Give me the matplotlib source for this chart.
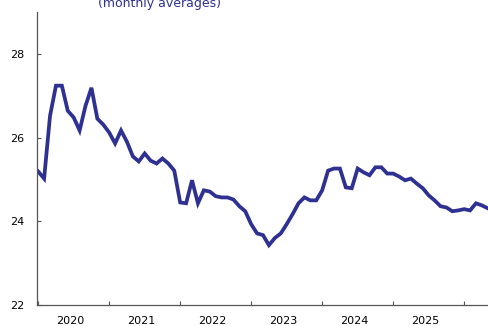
import matplotlib
matplotlib.use("Agg")
import matplotlib.pyplot as plt
import numpy as np

# Monthly averages, Jan 2020 onwards
values = [25.19, 25.02, 26.52, 27.24, 27.24, 26.64, 26.48, 26.17, 26.76, 27.19,
          26.45, 26.31, 26.12, 25.86, 26.17, 25.90, 25.55, 25.43, 25.62, 25.45,
          25.38, 25.50, 25.38, 25.21, 24.45, 24.43, 24.98, 24.43, 24.74, 24.71,
          24.60, 24.57, 24.57, 24.52, 24.36, 24.24, 23.93, 23.71, 23.67, 23.43,
          23.60, 23.71, 23.93, 24.17, 24.43, 24.57, 24.50, 24.50, 24.74, 25.21,
          25.26, 25.26, 24.81, 24.79, 25.26, 25.17, 25.10, 25.29, 25.29, 25.14,
          25.14, 25.07, 24.98, 25.02, 24.90, 24.79, 24.62, 24.50, 24.36, 24.33,
          24.24, 24.26, 24.29, 24.26, 24.43, 24.38, 24.31]
years = ["2020", "2021", "2022", "2023", "2024", "2025"]
y_ticks = [22, 24, 26, 28]

line_color = "#2F3192"
axis_color = "#555555"

fig = plt.figure(figsize=(4.89, 3.26), dpi=100)
ax = fig.add_axes([0.0757, 0.0644, 0.9243, 0.8988])

x = np.arange(len(values))
ax.plot(x, values, color=line_color, lw=2.7, solid_joinstyle="miter")

ax.set_xlim(-0.2, 76.2)
ax.set_ylim(22, 29)

# year boundaries as ticks, year names centred in between
ax.set_xticks([12 * i for i in range(len(years) + 1)])
ax.set_xticklabels([])
ax.set_xticks([12 * i + 5.5 for i in range(len(years))], minor=True)
ax.set_xticklabels(years, minor=True)
ax.tick_params(axis="x", which="major", direction="in", length=3, width=0.8, color=axis_color)
ax.tick_params(axis="x", which="minor", length=0, pad=8, labelsize=8)

ax.set_yticks(y_ticks)
ax.tick_params(axis="y", direction="in", length=3, width=0.8, color=axis_color, pad=9, labelsize=8)

for side in ["top", "right"]:
    ax.spines[side].set_visible(False)
for side in ["left", "bottom"]:
    ax.spines[side].set_color(axis_color)
    ax.spines[side].set_linewidth(0.9)

fig.text(160 / 489, 0.980, "(monthly averages)", color=line_color, fontsize=9,
         ha="center", va="baseline")

fig.savefig("out.png", dpi=100)
